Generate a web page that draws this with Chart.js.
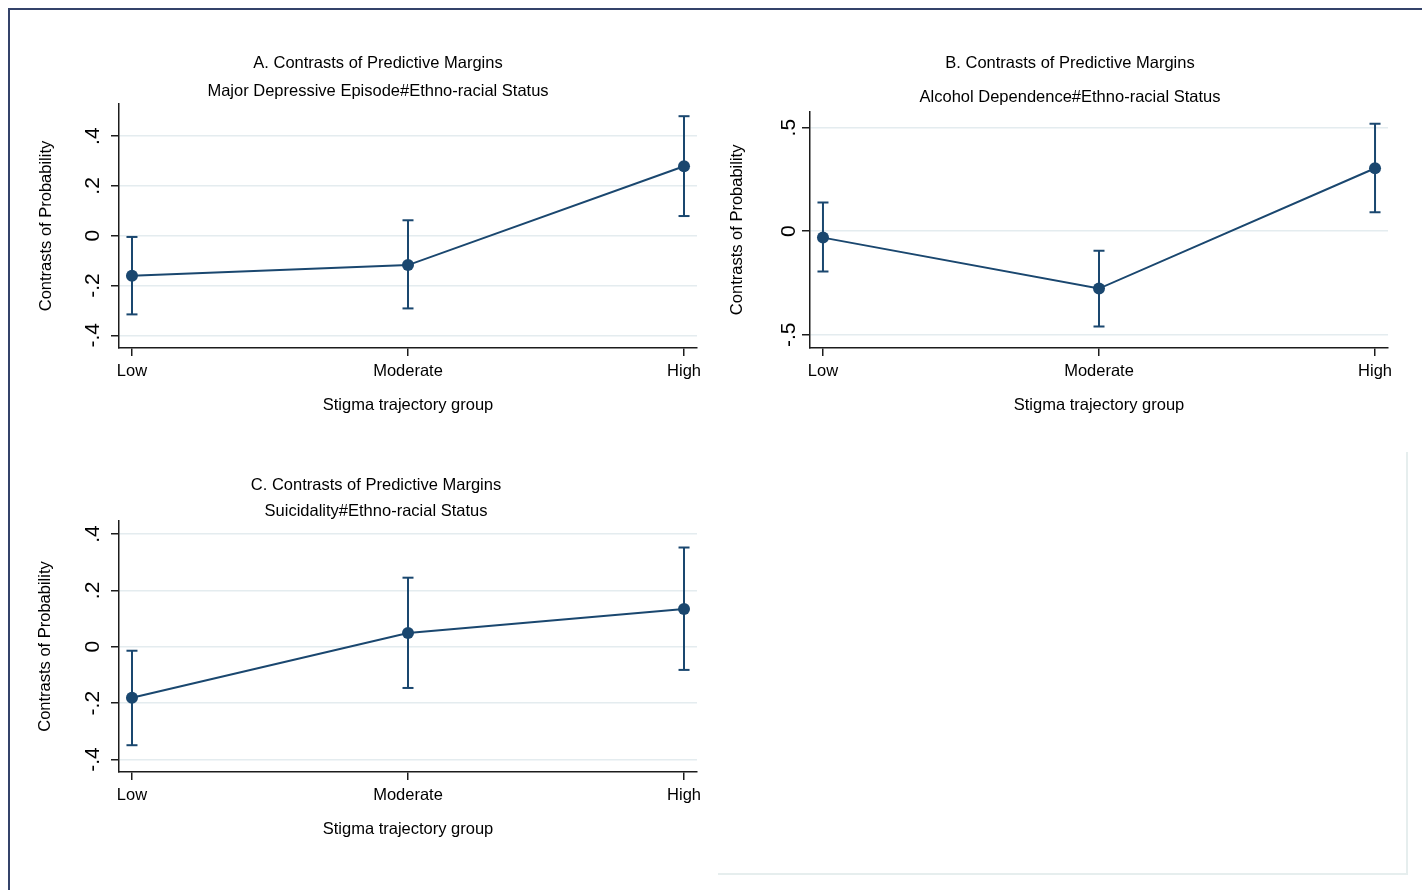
<!DOCTYPE html>
<html><head><meta charset="utf-8">
<script src="https://cdn.jsdelivr.net/npm/chart.js@4.4.1/dist/chart.umd.min.js"></script>
<style>
html,body{margin:0;padding:0;background:#fff;width:1422px;height:890px;overflow:hidden;position:relative}
canvas{position:absolute}
#frame{position:absolute;left:8px;top:8px;width:1420px;height:890px;border-top:2px solid #34436a;border-left:2px solid #34436a}
#empty{position:absolute;left:718px;top:452px;width:688px;height:421px;border-right:2px solid #e6eeee;border-bottom:2px solid #e6eeee}
</style></head><body>
<div id="frame"></div><div id="empty"></div>
<canvas id="cA" width="700" height="390" style="left:20px;top:30px"></canvas>
<canvas id="cB" width="700" height="390" style="left:712px;top:30px"></canvas>
<canvas id="cC" width="700" height="394" style="left:20px;top:450px"></canvas>
<script>
// ---------- data ----------
const categories = ['Low', 'Moderate', 'High'];
const xAxisTitle = 'Stigma trajectory group';
const yAxisTitle = 'Contrasts of Probability';

const titleA = 'A. Contrasts of Predictive Margins';
const subtitleA = 'Major Depressive Episode#Ethno-racial Status';
const estA  = [-0.161, -0.118, 0.279];
const lowA  = [-0.316, -0.292, 0.079];
const highA = [-0.005,  0.062, 0.480];
const yTicksA = [-0.4, -0.2, 0, 0.2, 0.4];
const yTickLabelsA = ['-.4', '-.2', '0', '.2', '.4'];

const titleB = 'B. Contrasts of Predictive Margins';
const subtitleB = 'Alcohol Dependence#Ethno-racial Status';
const estB  = [-0.031, -0.277, 0.304];
const lowB  = [-0.195, -0.460, 0.092];
const highB = [ 0.138, -0.094, 0.519];
const yTicksB = [-0.5, 0, 0.5];
const yTickLabelsB = ['-.5', '0', '.5'];

const titleC = 'C. Contrasts of Predictive Margins';
const subtitleC = 'Suicidality#Ethno-racial Status';
const estC  = [-0.181, 0.049, 0.134];
const lowC  = [-0.349, -0.146, -0.082];
const highC = [-0.014, 0.245, 0.352];
const yTicksC = [-0.4, -0.2, 0, 0.2, 0.4];
const yTickLabelsC = ['-.4', '-.2', '0', '.2', '.4'];

// ---------- styling ----------
const FAMILY = "'Liberation Sans', Arial, Helvetica, sans-serif";
const NAVY = '#1a476f';
const AXIS = '#1c1c1c';
const GRID = '#e4ecef';

function makePanel(id, title, subtitle, est, low, high, yTicks, yTickLabels, L) {
  const datasets = [{
    data: categories.map((c, i) => ({x: i, y: est[i]})),
    borderColor: NAVY, borderWidth: 2, tension: 0,
    pointRadius: 6, pointBackgroundColor: NAVY, pointBorderColor: NAVY, pointBorderWidth: 0,
    order: 0
  }];
  categories.forEach((c, i) => {
    datasets.push({
      data: [{x: i, y: low[i]}, {x: i, y: high[i]}],
      borderColor: NAVY, borderWidth: 2,
      pointStyle: 'line', pointRadius: 5.5, pointBorderColor: NAVY, pointBorderWidth: 2,
      order: 1
    });
  });
  new Chart(document.getElementById(id), {
    type: 'line',
    data: {datasets},
    options: {
      responsive: false, animation: false, devicePixelRatio: 1, events: [],
      layout: {padding: {left: L.pL, right: L.pR, top: 0, bottom: 0}},
      plugins: {
        legend: {display: false}, tooltip: {enabled: false},
        title: {display: true, text: title, color: '#000',
                font: {family: FAMILY, size: 16.5, weight: 'normal'},
                padding: {top: L.tPt, bottom: 0}},
        subtitle: {display: true, text: subtitle, color: '#000',
                   font: {family: FAMILY, size: 16.5, weight: 'normal'},
                   padding: {top: L.sPt, bottom: L.sPb}}
      },
      scales: {
        x: {
          type: 'linear', bounds: 'data', min: -0.047, max: 2.047,
          afterBuildTicks: s => { s.ticks = categories.map((c, i) => ({value: i})); },
          afterFit: s => { s.height = 72; },
          ticks: {autoSkip: false, minRotation: 0, maxRotation: 0, padding: 5.1, color: '#000',
                  font: {family: FAMILY, size: 16.5},
                  callback: v => categories[v] !== undefined ? categories[v] : ''},
          grid: {drawOnChartArea: false, drawTicks: true, tickLength: 8,
                 color: AXIS, lineWidth: 1.5, tickColor: AXIS, tickWidth: 1.5},
          border: {display: true, color: AXIS, width: 1.5},
          title: {display: true, text: xAxisTitle, color: '#000',
                  font: {family: FAMILY, size: 16.5}, padding: {top: 0, bottom: 5.1}}
        },
        y: {
          type: 'linear', bounds: 'data', min: L.yMin, max: L.yMax,
          afterBuildTicks: s => { s.ticks = yTicks.map(v => ({value: v})); },
          afterFit: s => { s.width = L.yw; },
          ticks: {autoSkip: false, minRotation: 90, maxRotation: 90, crossAlign: 'center',
                  padding: L.tickPad, color: '#000', font: {family: FAMILY, size: 21},
                  callback: (v, i) => yTickLabels[i]},
          grid: {drawOnChartArea: true, drawTicks: true, tickLength: 8,
                 color: GRID, lineWidth: 1.5, tickColor: AXIS, tickWidth: 1.5},
          border: {display: true, color: AXIS, width: 1.5},
          title: {display: true, text: yAxisTitle, color: '#000',
                  font: {family: FAMILY, size: 16.5}, padding: {top: L.ytp, bottom: 0}}
        }
      }
    }
  });
}

makePanel('cA', titleA, subtitleA, estA, lowA, highA, yTicksA, yTickLabelsA,
  {pL: 39, pR: 23, yw: 60, ytp: -22.9, tickPad: 5.4, tPt: 23.1, sPt: 8.2, sPb: 3.1, yMin: -0.451, yMax: 0.529});
makePanel('cB', titleB, subtitleB, estB, lowB, highB, yTicksB, yTickLabelsB,
  {pL: 40, pR: 24, yw: 58, ytp: -24.9, tickPad: 0.8, tPt: 23.1, sPt: 14.2, sPb: 4.8, yMin: -0.564, yMax: 0.577});
makePanel('cC', titleC, subtitleC, estC, lowC, highC, yTicksC, yTickLabelsC,
  {pL: 35, pR: 23, yw: 64, ytp: -19.9, tickPad: 5.4, tPt: 25.1, sPt: 6.3, sPb: 0, yMin: -0.444, yMax: 0.446});
</script>
</body></html>
